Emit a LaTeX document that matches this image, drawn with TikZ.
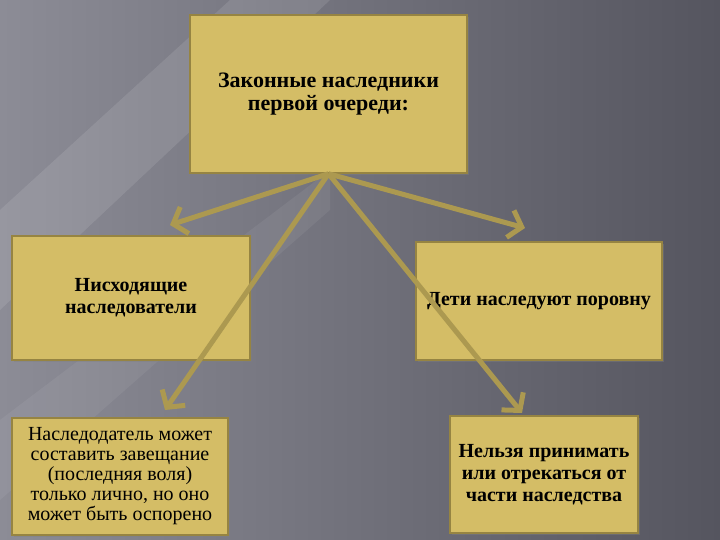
\documentclass[tikz,border=0pt]{standalone}
\usepackage{fontspec}
\setmainfont{Liberation Serif}
\newfontfamily\boxfont{Liberation Serif}
\usetikzlibrary{arrows.meta,shadows}
\definecolor{boxfill}{RGB}{212,189,102}
\definecolor{boxline}{RGB}{150,132,66}
\definecolor{arrowcol}{RGB}{172,153,80}
\definecolor{bglight}{RGB}{140,140,150}
\definecolor{bgdark}{RGB}{85,85,95}

\begin{document}
\begin{tikzpicture}[x=1pt, y=1pt,
        box/.style={rectangle, draw=boxline, line width=1.5pt, fill=boxfill, align=center, inner sep=2pt,
            font=\boxfont\fontsize{20}{22}\selectfont, drop shadow={opacity=0.4, shadow xshift=2pt, shadow yshift=-2pt}},
        link/.style={draw=arrowcol, line width=5pt, -{Straight Barb[length=12pt, width=28pt]}}
    ]
        % background
        \shade[left color=bglight, right color=bgdark] (0,0) rectangle (720,540);
        \fill[white, opacity=0.10] (0,330) -- (230,540) -- (330,540) -- (0,230) -- cycle;
        \fill[white, opacity=0.06] (0,120) -- (330,370) -- (330,330) -- (0,40) -- cycle;
        \useasboundingbox (0,0) rectangle (720,540);

        \node[box, minimum width=277pt, minimum height=158pt, font=\boxfont\fontsize{22}{23}\selectfont] (heirs) at (328.5,446)
            {\bfseries Законные наследники\\\bfseries первой очереди:};
        \node[box, minimum width=238pt, minimum height=124pt] (desc) at (131,242) {\bfseries Нисходящие\\\bfseries наследователи};
        \node[box, minimum width=246pt, minimum height=118pt] (equal) at (539,239) {\bfseries Дети наследуют поровну};
        \node[box, minimum width=216pt, minimum height=117pt, font=\boxfont\fontsize{20}{20}\selectfont] (will) at (120,63.5)
            {Наследодатель может\\составить завещание\\(последняя воля)\\только лично, но оно\\может быть оспорено};
        \node[box, minimum width=188pt, minimum height=117pt] (part) at (544,65.5) {\bfseries Нельзя принимать\\\bfseries или отрекаться от\\\bfseries части наследства};

        \coordinate (e1) at (170,315);
        \coordinate (e2) at (525,312);
        \coordinate (e3) at (165,130);
        \coordinate (e4) at (522,127);

        \draw[link] (heirs.south)--(e1);
        \draw[link] (heirs.south)--(e2);
        \draw[link] (heirs.south)--(e3);
        \draw[link] (heirs.south)--(e4);
    \end{tikzpicture}
\end{document}
